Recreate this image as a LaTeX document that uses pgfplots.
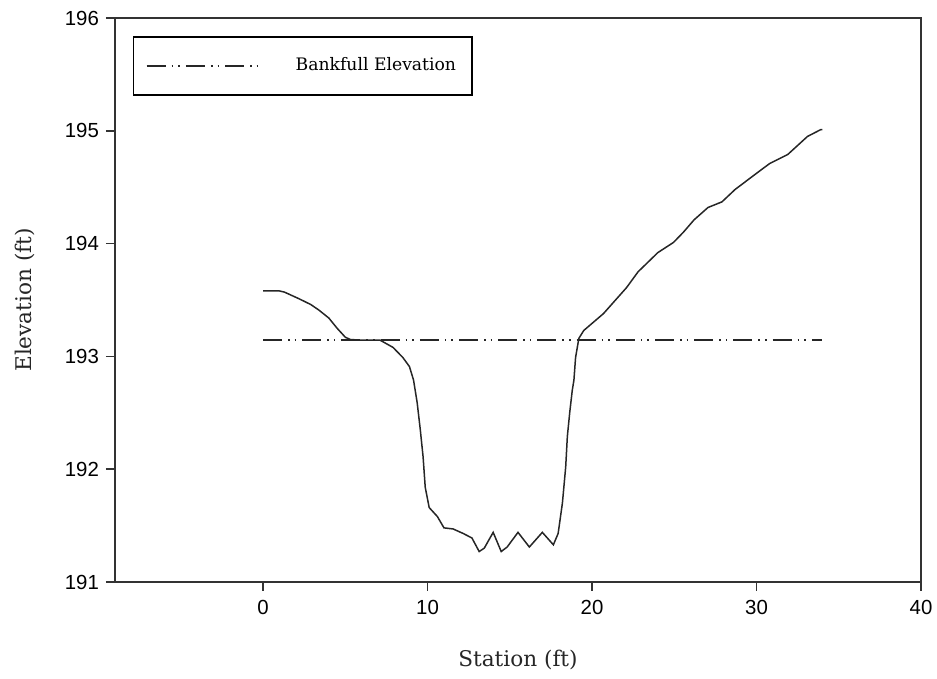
\documentclass[border=0pt]{standalone}
\usepackage{pgfplots}
\pgfplotsset{compat=1.18}
\usepackage{fontspec}
\setmainfont{DejaVu Serif}
\newfontfamily\arialf{Liberation Sans}
\begin{document}
\begin{tikzpicture}
\useasboundingbox (-57.5pt,-48.5pt) rectangle (411pt,291pt);
\begin{axis}[
  at={(0pt,0pt)}, anchor=south west,
  scale only axis, width=403pt, height=282pt,
  xmin=-9, xmax=40, ymin=191, ymax=196,
  xtick={0,10,20,30,40}, ytick={191,192,193,194,195,196},
  tick align=outside, major tick length=4.5pt,
  xtick pos=bottom, ytick pos=left,
  axis line style={line width=1pt, black!80},
  tick style={line width=0.8pt, black!80},
  /pgf/number format/assume math mode=true,
  ticklabel style={font=\arialf\fontsize{10.2}{12}\selectfont, text=black},
  xticklabel style={yshift=-1pt},
  xlabel={Station (ft)}, ylabel={Elevation (ft)},
  label style={font=\fontsize{10.8}{12}\selectfont, text=black!85},
  xlabel style={at={(axis description cs:0.5,-0.138)}, anchor=center},
  ylabel style={at={(axis description cs:-0.112,0.5)}, anchor=center},
  legend style={at={(0.0223,0.968)}, anchor=north west, draw=black, line width=0.75pt,
     font=\fontsize{8.6}{10}\selectfont, inner xsep=6pt, inner ysep=8.5pt},
  legend image code/.code={\draw[#1] (0pt,0pt) -- (55.5pt,0pt); \path (0pt,-4pt) (72pt,4pt);},
]
\addplot[black!85, line width=0.75pt, forget plot] coordinates {
(0,193.58) (1.0,193.58) (1.3,193.57) (2.2,193.51) (2.9,193.46) (3.4,193.41)
(4.0,193.34) (4.5,193.25) (5.0,193.17) (5.3,193.15) (5.8,193.145) (7.1,193.145)
(7.9,193.08) (8.5,192.99) (8.9,192.91) (9.15,192.79) (9.37,192.59) (9.56,192.35)
(9.73,192.11) (9.86,191.84) (10.1,191.66) (10.6,191.58) (11.0,191.48) (11.56,191.47)
(12.17,191.43) (12.7,191.39) (13.14,191.27) (13.45,191.30) (13.99,191.44) (14.48,191.27)
(14.84,191.31) (15.5,191.44) (16.19,191.31) (16.98,191.44) (17.65,191.33) (17.94,191.43)
(18.2,191.70) (18.4,192.02) (18.5,192.29) (18.65,192.51) (18.8,192.70) (18.9,192.79)
(19.0,192.99) (19.2,193.16) (19.5,193.23) (20.7,193.38) (22.1,193.61) (22.8,193.75)
(24.0,193.92) (24.95,194.01) (25.55,194.10) (26.2,194.21) (27.05,194.32) (27.9,194.37)
(28.7,194.48) (29.7,194.59) (30.8,194.71) (31.9,194.79) (33.1,194.95) (33.9,195.01) (34,195.01)
};
\addplot[black!85, line width=1pt, dash pattern=on 9.5pt off 3pt on 0.8pt off 2.5pt on 0.8pt off 3pt] coordinates {(0,193.145) (34,193.145)};
\addlegendentry{Bankfull Elevation}
\end{axis}
\end{tikzpicture}
\end{document}
